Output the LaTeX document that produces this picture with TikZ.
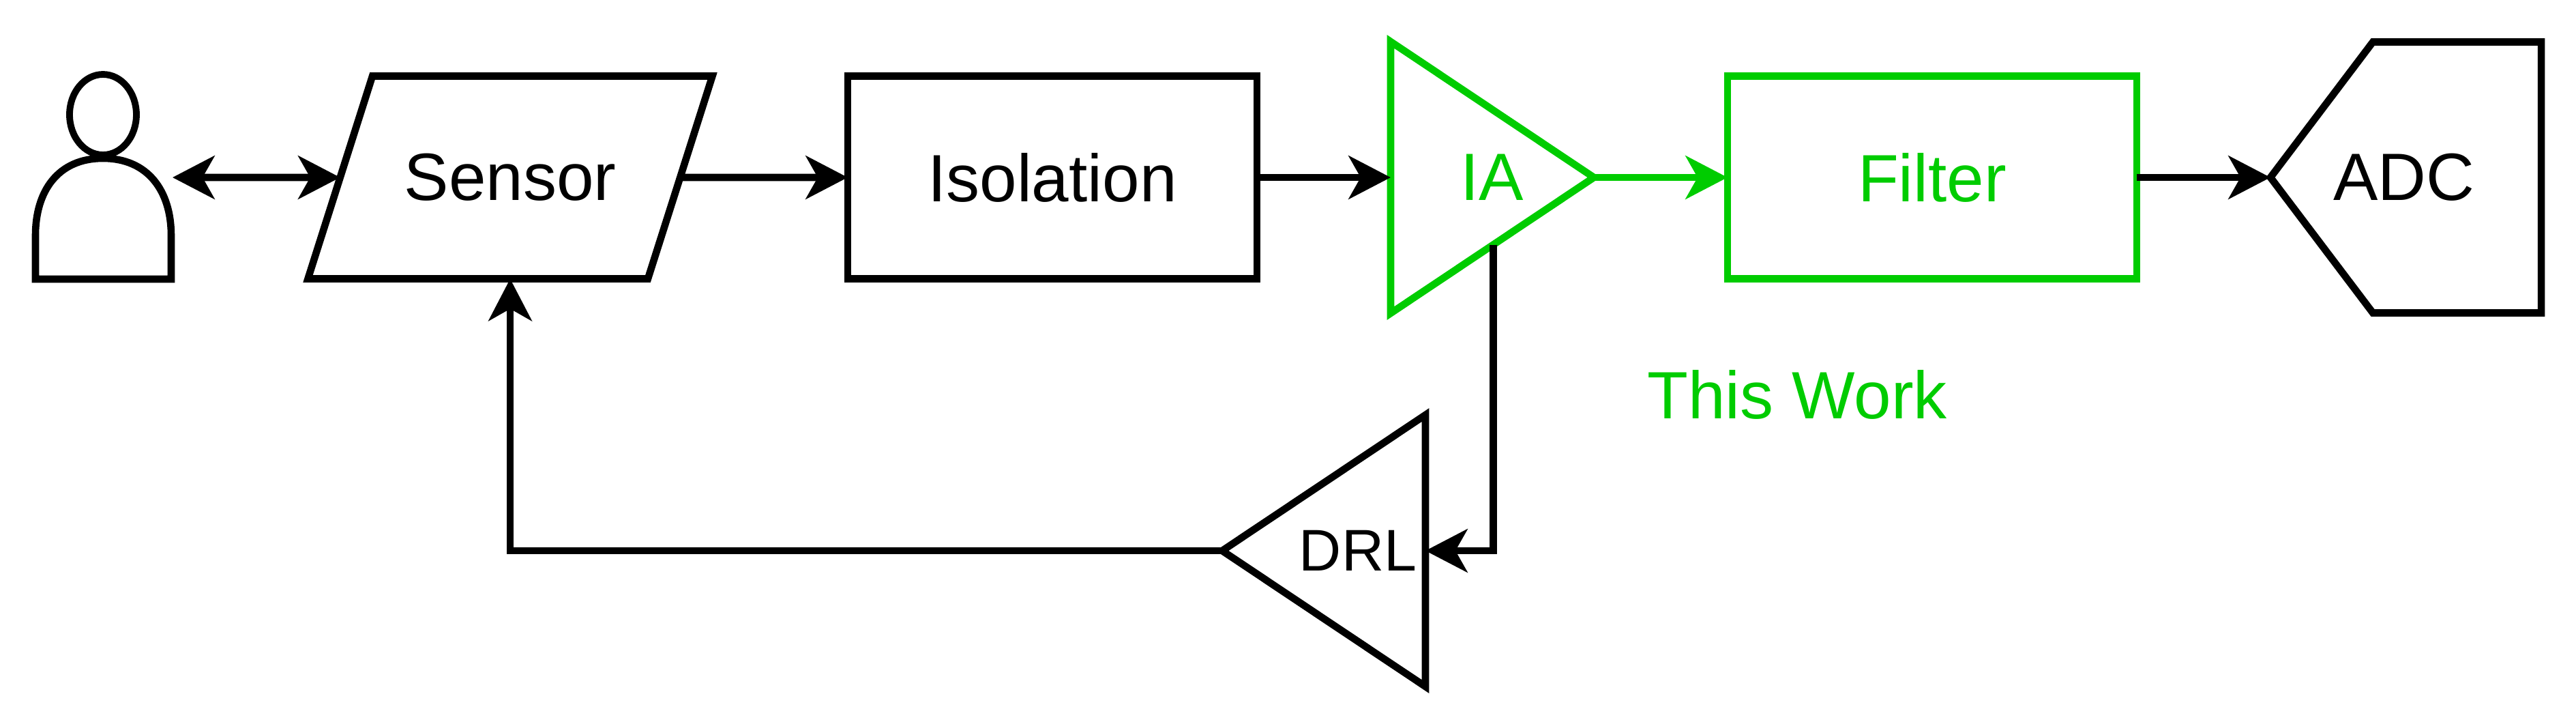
\documentclass[tikz,border=0pt]{standalone}
\usepackage{fontspec}
\setmainfont{Liberation Sans}
\usetikzlibrary{positioning,arrows.meta,shapes.geometric,shapes.symbols,calc}
\definecolor{workgreen}{HTML}{00CC00}

\begin{document}
\begin{tikzpicture}[
  every node/.style={font=\fontsize{27.9pt}{32pt}\selectfont,outer sep=0pt,inner sep=0pt},
  block/.style={draw,rectangle,line width=3pt,minimum width=6cm,minimum height=2.97cm},
  amp/.style={draw,isosceles triangle,isosceles triangle stretches,line width=3pt,minimum width=3.98cm,minimum height=2.98cm},
  conn/.style={-{Stealth[length=17.5pt,width=18pt,inset=5pt]},line width=3pt}]
\useasboundingbox (0,0) rectangle (37.77,-10.35);
% blocks
\node[block,trapezium,trapezium left angle=36.3,trapezium right angle=143.7,trapezium stretches body,minimum width=5.93cm] (sensor) at (7.48,-2.6) {Sensor};
\node[block] (isolation) at (15.43,-2.6) {Isolation};
\node[amp,draw=workgreen,anchor=apex] (IA) at (23.37,-2.6) {};
\node[block,draw=workgreen,text=workgreen] (filter) at (28.33,-2.6) {Filter};
\node[draw,line width=3pt,signal,signal to=west,signal pointer angle=105.8,minimum width=3.97cm,minimum height=3.97cm,anchor=west] (ADC) at (33.29,-2.6) {};
\node[amp,shape border rotate=180,anchor=apex] (DRL) at (17.92,-8.07) {};
\node (IAtext) at (21.88,-2.6) [text=workgreen] {IA};
\node (ADCtext) at (35.25,-2.6) {ADC};
\node (DRLtext) at (19.91,-8.07) [font=\fontsize{24.5pt}{30pt}\selectfont] {DRL};
\node (work) at (26.35,-5.78) [text=workgreen] {This Work};
% person
\node[draw,ellipse,line width=2.8pt,minimum width=.98cm,minimum height=1.18cm] (head) at (1.51,-1.68) {};
\draw[line width=3pt] (.52,-4.09) -- (.52,-3.45) .. controls (.52,-2.8) and (.85,-2.32) .. (1.51,-2.32)
  .. controls (2.17,-2.32) and (2.51,-2.8) .. (2.51,-3.45) -- (2.51,-4.09) -- cycle;
\coordinate (user) at (2.53,-2.6);
% connectors
\draw[conn,{Stealth[length=17.5pt,width=18pt,inset=5pt]}-{Stealth[length=17.5pt,width=18pt,inset=5pt]}] (user) -- (sensor);
\foreach \i/\j in {sensor/isolation,isolation/IA,filter/ADC} {
  \draw[conn] (\i) -- (\j);
}
\draw[conn,workgreen] (IA.apex) -- (filter);
\coordinate (IAout) at ($(IA.apex)!.495!(IA.right corner)$);
\draw[conn] (IAout) |- (DRL.east);
\draw[conn] (DRL.apex) -| (sensor.south);
\end{tikzpicture}
\end{document}
